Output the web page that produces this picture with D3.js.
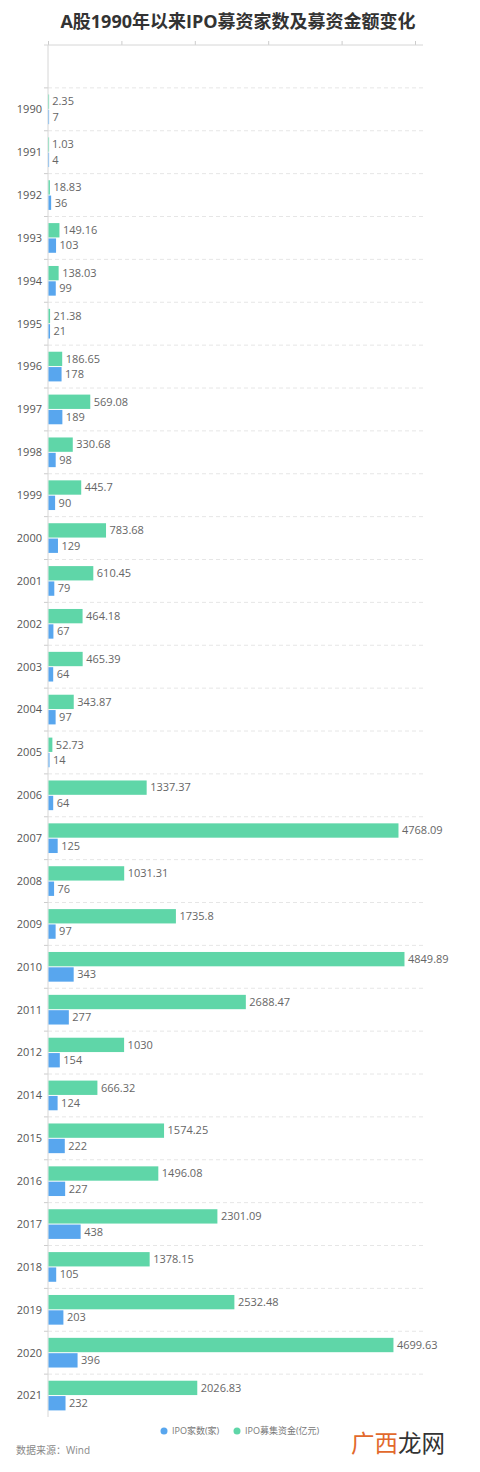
<!DOCTYPE html>
<html>
<head>
<meta charset="utf-8">
<script src="https://cdn.jsdelivr.net/npm/d3@7"></script>
<style>
  body { margin: 0; background: #fff; }
  text { font-family: "Open Sans", "Noto Sans CJK SC", sans-serif; }
</style>
</head>
<body>
<svg id="chart" width="480" height="1472"></svg>
<script>
// years shown on the y axis (2013 is missing in the source)
const years = ['1990', '1991', '1992', '1993', '1994', '1995', '1996', '1997', '1998', '1999',
  '2000', '2001', '2002', '2003', '2004', '2005', '2006', '2007', '2008', '2009', '2010',
  '2011', '2012', '2014', '2015', '2016', '2017', '2018', '2019', '2020', '2021'];
// IPO募集资金(亿元)
const raised = [2.35, 1.03, 18.83, 149.16, 138.03, 21.38, 186.65, 569.08, 330.68, 445.7,
  783.68, 610.45, 464.18, 465.39, 343.87, 52.73, 1337.37, 4768.09, 1031.31, 1735.8, 4849.89,
  2688.47, 1030, 666.32, 1574.25, 1496.08, 2301.09, 1378.15, 2532.48, 4699.63, 2026.83];
// IPO家数(家)
const counts = [7, 4, 36, 103, 99, 21, 178, 189, 98, 90,
  129, 79, 67, 64, 97, 14, 64, 125, 76, 97, 343,
  277, 154, 124, 222, 227, 438, 105, 203, 396, 232];
const xTicks = [0, 1000, 2000, 3000, 4000, 5000];

const series = [
  { key: 'raised', name: 'IPO募集资金(亿元)', color: '#5fd6a8', values: raised },
  { key: 'counts', name: 'IPO家数(家)', color: '#58a6ee', values: counts }
];

const svg = d3.select('#chart');
const mLeft = 48, mRight = 423, mTop = 45, mBottom = 1417;

const x = d3.scaleLinear().domain([0, 5000]).range([mLeft, 415]);
// leading blank slot leaves the empty band under the top axis
const y = d3.scaleBand().domain([''].concat(years)).range([mTop, mBottom]);
const sub = d3.scaleBand().domain(series.map(s => s.key))
  .range([0, y.bandwidth()]).paddingInner(0.065).paddingOuter(0.43);

// title
svg.append('text')
  .attr('x', 238).attr('y', 28)
  .attr('text-anchor', 'middle')
  .attr('font-size', 18).attr('font-weight', 'bold')
  .attr('fill', '#333')
  .text('A股1990年以来IPO募资家数及募资金额变化');

// dashed grid lines at band boundaries
const bounds = y.domain().slice(1).map(d => y(d));
svg.append('g').selectAll('line')
  .data(bounds)
  .join('line')
  .attr('x1', mLeft).attr('x2', mRight)
  .attr('y1', d => d).attr('y2', d => d)
  .attr('stroke', '#e6e6e6')
  .attr('stroke-dasharray', '4,3');

// top value axis (no labels)
const xAxis = svg.append('g')
  .attr('transform', `translate(0,${mTop})`)
  .call(d3.axisTop(x).tickValues(xTicks).tickSize(4).tickFormat(''));
xAxis.select('.domain').remove();
xAxis.selectAll('line').attr('stroke', '#ccc');
svg.append('line')
  .attr('x1', 44).attr('x2', mRight)
  .attr('y1', mTop).attr('y2', mTop)
  .attr('stroke', '#d6d6d6');

// left category axis
svg.append('g').selectAll('line')
  .data(bounds)
  .join('line')
  .attr('x1', mLeft - 4).attr('x2', mLeft)
  .attr('y1', d => d).attr('y2', d => d)
  .attr('stroke', '#ccc');
svg.append('line')
  .attr('x1', mLeft).attr('x2', mLeft)
  .attr('y1', mTop).attr('y2', mBottom)
  .attr('stroke', '#d6d6d6');

svg.append('g').selectAll('text')
  .data(years)
  .join('text')
  .attr('x', mLeft - 6)
  .attr('y', d => y(d) + y.bandwidth() / 2)
  .attr('dy', '0.35em')
  .attr('text-anchor', 'end')
  .attr('font-size', 11)
  .attr('fill', '#555')
  .text(d => d);

// bars + value labels
series.forEach(s => {
  const rows = years.map((yr, i) => ({ yr, v: s.values[i] }));
  const g = svg.append('g');
  g.selectAll('rect')
    .data(rows)
    .join('rect')
    .attr('x', x(0) + 0.5)
    .attr('y', d => y(d.yr) + sub(s.key))
    .attr('width', d => Math.max(0.6, x(d.v) - x(0)))
    .attr('height', sub.bandwidth())
    .attr('fill', s.color);
  g.selectAll('text')
    .data(rows)
    .join('text')
    .attr('x', d => x(d.v) + 4)
    .attr('y', d => y(d.yr) + sub(s.key) + sub.bandwidth() / 2)
    .attr('dy', '0.35em')
    .attr('font-size', 11)
    .attr('fill', '#666')
    .text(d => d.v);
});

// legend
const legend = [series[1], series[0]];
const lx = [164, 237];
legend.forEach((s, i) => {
  svg.append('circle')
    .attr('cx', lx[i]).attr('cy', 1431).attr('r', 3.5)
    .attr('fill', s.color);
  svg.append('text')
    .attr('x', lx[i] + 8).attr('y', 1431)
    .attr('dy', '0.35em')
    .attr('font-size', 9)
    .attr('fill', '#777')
    .text(s.name);
});

// source note
svg.append('text')
  .attr('x', 16).attr('y', 1454)
  .attr('font-size', 10)
  .attr('fill', '#888')
  .text('数据来源：Wind');

// watermark
const wm = svg.append('text')
  .attr('x', 351).attr('y', 1452)
  .attr('font-size', 23.5);
wm.append('tspan').attr('fill', '#e2692c').text('广西');
wm.append('tspan').attr('fill', '#333').text('龙网');
</script>
</body>
</html>
